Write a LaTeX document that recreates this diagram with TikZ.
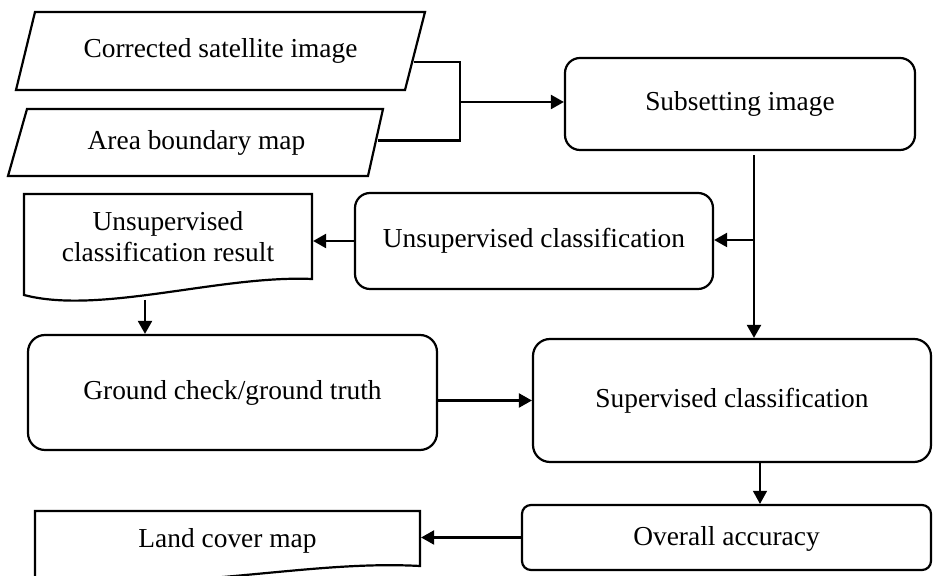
\documentclass[tikz,border=0pt]{standalone}
\usepackage{fontspec}
\setmainfont{Liberation Serif}
\usetikzlibrary{arrows.meta, positioning}

\begin{document}
\begin{tikzpicture}[
    x=0.5pt, y=-0.5pt,
    font=\fontsize{13.7}{15.5}\selectfont,
    line width=1.1pt,
    process/.style={rectangle, draw, rounded corners=7.5pt, align=center},
    textbox/.style={rectangle, align=center, inner sep=0pt},
    >={Triangle[length=6.5pt,width=7pt]}
]
\useasboundingbox (0,0) rectangle (933,576);

% Nodes
\node (corrected) [textbox, minimum width=195pt, minimum height=39pt] at (220.5,51) {Corrected satellite image};
\node (boundary) [textbox, minimum width=179pt, minimum height=33.5pt] at (196.5,142.5) {Area boundary map};
\node (subset) [process, minimum width=175pt, minimum height=46pt] at (740,104) {Subsetting image};
\node (unsup) [process, minimum width=179pt, minimum height=48pt] at (534,241) {Unsupervised classification};
\node (unsupres) [textbox, minimum width=144pt, minimum height=31pt] at (168,237) {Unsupervised\\classification result};
\node (ground) [process, rounded corners=8.5pt, minimum width=204.5pt, minimum height=57.5pt] at (232.5,392.5) {Ground check/ground truth};
\node (sup) [process, rounded corners=8.5pt, minimum width=199pt, minimum height=61.5pt] at (732,400.5) {\raisebox{-2.5pt}{Supervised classification}};
\node (accuracy) [process, rounded corners=4.5pt, minimum width=204.5pt, minimum height=32.5pt, text depth=2pt] at (726.5,537.5) {Overall accuracy};
\node (landcover) [textbox, minimum width=192.5pt, minimum height=30pt] at (227.5,541) {Land cover map};

% Input and document outlines
\draw (35,12) -- (425,12) -- (405,90) -- (16,90) -- cycle;
\draw (27,109) -- (383,109) -- (368,176) -- (8,176) -- cycle;
\draw (24,295) -- (24,194) -- (312,194) -- (312,279) .. controls (220,275) and (100,315) .. cycle;
\draw (35,590) -- (35,511) -- (420,511) -- (420,566) .. controls (310,560) and (200,590) .. (35,582);

% Arrows
\coordinate (join) at (460,102);
\coordinate (split) at (754,240);
\coordinate (resbottom) at (145,300);
\draw ([shift={(-3,11)}]corrected.east) -| (join);
\draw ([shift={(1,-2)}]boundary.east) -| (join);
\draw [->] (join) -- (join -| subset.west);
\draw (subset.south -| split) ++(0,4) -- (split);
\draw [->] (split) -- (split -| unsup.east);
\draw [->] (split) -- (split |- sup.north);
\draw [->] (unsup.west) -- (unsup.west -| unsupres.east);
\draw [->] (resbottom) -- (resbottom |- ground.north);
\draw [->] (sup.west -| ground.east) -- (sup.west);
\draw [->, line width=0.6pt] ([xshift=14pt]sup.south) -- ([xshift=14pt]sup.south |- accuracy.north);
\draw [->] (accuracy.west) -- (accuracy.west -| landcover.east);

\end{tikzpicture}
\end{document}
